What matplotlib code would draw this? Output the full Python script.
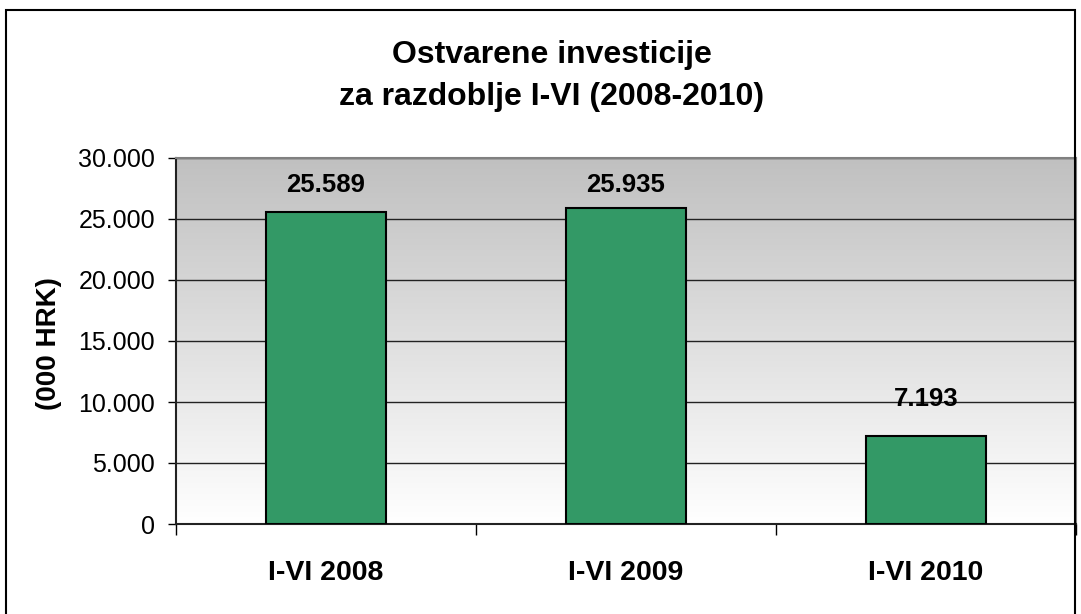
import numpy as np
import matplotlib
matplotlib.use("Agg")
import matplotlib.pyplot as plt
from matplotlib.ticker import FuncFormatter, FixedLocator
from matplotlib.patches import Rectangle

plt.rcParams['font.family'] = ['Liberation Sans', 'DejaVu Sans']

categories = ['I-VI 2008', 'I-VI 2009', 'I-VI 2010']
values = [25589, 25935, 7193]
yticks = [0, 5000, 10000, 15000, 20000, 25000, 30000]
title = 'Ostvarene investicije\nza razdoblje I-VI (2008-2010)'
ylabel = '(000 HRK)'

# label gap above each bar (points), as placed in the original
label_offsets = [14.5, 11.5, 21.5]

W, H = 1081, 614
fig = plt.figure(figsize=(W / 100, H / 100), dpi=100)
fig.patch.set_facecolor('white')

# outer chart border
fig.patches.append(Rectangle((6 / W, -0.05), (1075 - 6) / W, 1.05 - 10 / H,
                             transform=fig.transFigure, fill=False,
                             edgecolor='black', linewidth=1.5))

ax = fig.add_axes([176 / W, (H - 524) / H, 900 / W, 366 / H])

x = np.arange(len(categories))
ax.set_xlim(-0.5, len(categories) - 0.5)
ax.set_ylim(0, 30000)

# gray-to-white gradient background
grad = np.linspace(0, 1, 256).reshape(-1, 1)
ax.imshow(grad, cmap=matplotlib.colors.LinearSegmentedColormap.from_list(
    'bg', ['#ffffff', '#c0c0c0']), aspect='auto', origin='lower',
    extent=[-0.5, len(categories) - 0.5, 0, 30000], zorder=0)

ax.yaxis.grid(True, color='#222222', linewidth=1.0, zorder=1)
ax.set_axisbelow(True)

ax.bar(x, values, width=0.4, color='#339966', edgecolor='black',
       linewidth=1.5, zorder=3)

for xi, v, off in zip(x, values, label_offsets):
    ax.annotate(f'{v:,}'.replace(',', '.'), (xi, v), xytext=(0, off),
                textcoords='offset points', ha='center', va='baseline',
                fontsize=18.5, fontweight='bold')

ax.set_yticks(yticks)
ax.yaxis.set_major_formatter(FuncFormatter(lambda v, p: f'{int(v):,}'.replace(',', '.')))
ax.tick_params(axis='y', direction='out', length=6, width=1, pad=9,
               labelsize=18, colors='black')

ax.xaxis.set_major_locator(FixedLocator(np.arange(len(categories) + 1) - 0.5))
ax.xaxis.set_major_formatter(FuncFormatter(lambda v, p: ''))
ax.xaxis.set_minor_locator(FixedLocator(x))
ax.set_xticks(x, categories, minor=True)
ax.tick_params(axis='x', which='major', direction='out', length=8, width=1)
ax.tick_params(axis='x', which='minor', length=0, pad=26, labelsize=20.5)
for lbl in ax.get_xticklabels(minor=True):
    lbl.set_fontweight('bold')

for s in ['top', 'right']:
    ax.spines[s].set_color('#808080')
    ax.spines[s].set_linewidth(1.5)
for s in ['left', 'bottom']:
    ax.spines[s].set_color('#222222')
    ax.spines[s].set_linewidth(1.5)

fig.text(552 / W, 1 - 76 / H, title, ha='center', va='center',
         fontsize=23, fontweight='bold', linespacing=1.5)
fig.text(49 / W, 1 - 344 / H, ylabel, ha='center', va='center',
         rotation=90, fontsize=20, fontweight='bold')

fig.savefig('out.png', dpi=100)
